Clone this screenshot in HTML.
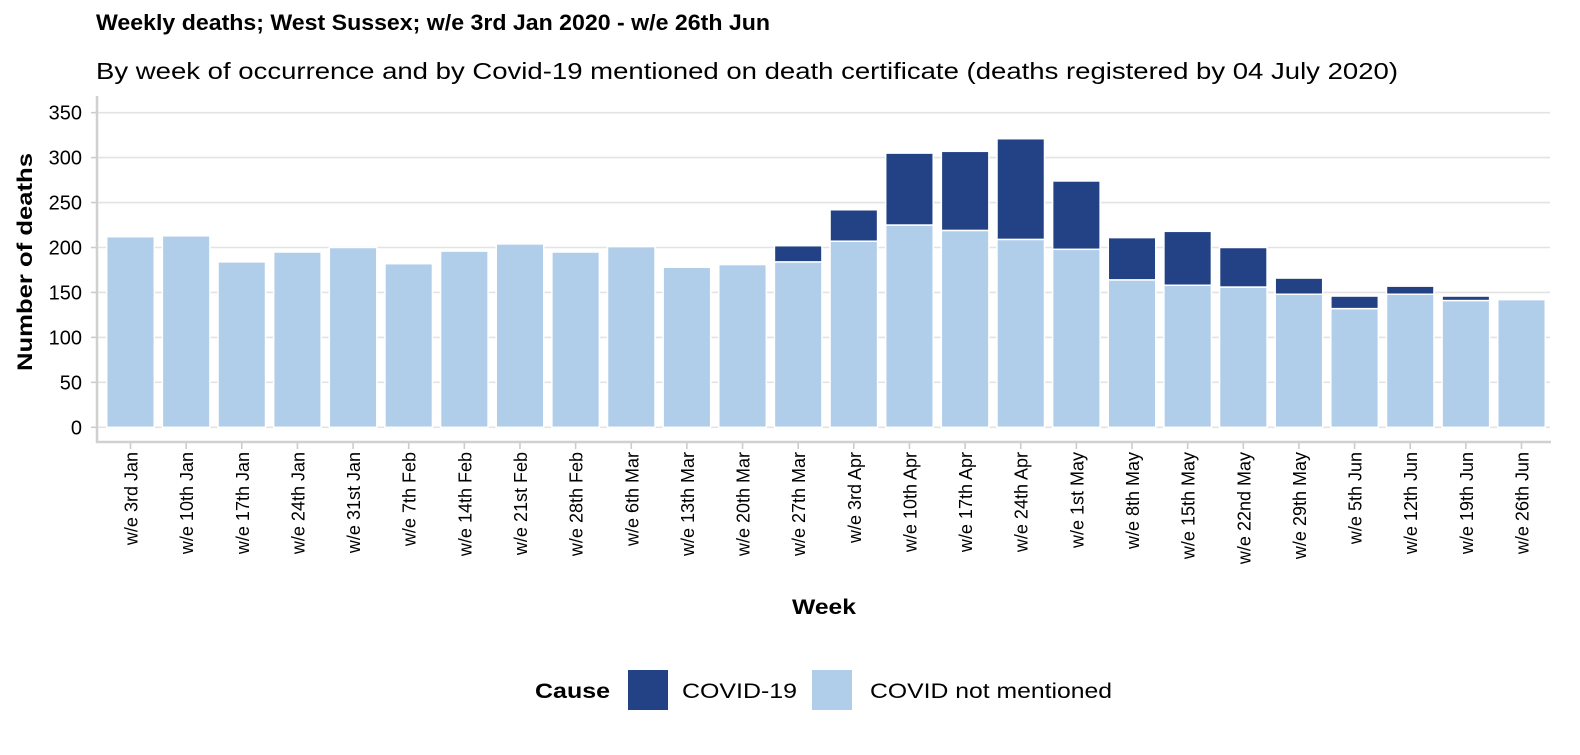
<!DOCTYPE html>
<html><head><meta charset="utf-8"><style>
body{margin:0;background:#fff;font-family:"Liberation Sans",Arial,sans-serif}
svg text{font-family:"Liberation Sans",Arial,sans-serif}
</style></head><body>
<svg id="chart" width="1580" height="750" xmlns="http://www.w3.org/2000/svg">
<text x="96" y="30" font-size="22" font-weight="bold" textLength="674" lengthAdjust="spacingAndGlyphs">Weekly deaths; West Sussex; w/e 3rd Jan 2020 - w/e 26th Jun</text>
<text x="96" y="79" font-size="23" textLength="1302" lengthAdjust="spacingAndGlyphs">By week of occurrence and by Covid-19 mentioned on death certificate (deaths registered by 04 July 2020)</text>
<g id="grid"></g><g id="bars"></g><g id="axes"></g>
<text transform="translate(32,262) rotate(-90)" text-anchor="middle" font-size="21" font-weight="bold" textLength="218" lengthAdjust="spacingAndGlyphs">Number of deaths</text>
<text x="824" y="614" text-anchor="middle" font-size="21" font-weight="bold" textLength="64" lengthAdjust="spacingAndGlyphs">Week</text>
<g>
<text x="535" y="698" font-size="21" font-weight="bold" textLength="75" lengthAdjust="spacingAndGlyphs">Cause</text>
<rect x="628" y="670" width="40" height="40" fill="#234185"/>
<text x="682" y="698" font-size="21" textLength="115" lengthAdjust="spacingAndGlyphs">COVID-19</text>
<rect x="812" y="670" width="40" height="40" fill="#b0cde9"/>
<text x="870" y="698" font-size="21" textLength="242" lengthAdjust="spacingAndGlyphs">COVID not mentioned</text>
</g>
</svg>
<script>
const weeks=["w/e 3rd Jan","w/e 10th Jan","w/e 17th Jan","w/e 24th Jan","w/e 31st Jan","w/e 7th Feb","w/e 14th Feb","w/e 21st Feb","w/e 28th Feb","w/e 6th Mar","w/e 13th Mar","w/e 20th Mar","w/e 27th Mar","w/e 3rd Apr","w/e 10th Apr","w/e 17th Apr","w/e 24th Apr","w/e 1st May","w/e 8th May","w/e 15th May","w/e 22nd May","w/e 29th May","w/e 5th Jun","w/e 12th Jun","w/e 19th Jun","w/e 26th Jun"];
const notMentioned=[212,213,184,195,200,182,196,204,195,201,178,181,184,207,225,219,209,198,164,158,156,148,132,148,141,142];
const covid=[0,0,0,0,0,0,0,0,0,0,0,0,18,35,80,88,112,76,47,60,44,18,14,9,5,0];
const yTicks=[0,50,100,150,200,250,300,350];
const NS="http://www.w3.org/2000/svg";
const x0=130.5,step=55.64,bw=47.5,yZero=427.3,ppu=0.899;
const X=i=>x0+i*step, Y=v=>yZero-v*ppu;
function mk(tag,attrs,parent,txt){const e=document.createElementNS(NS,tag);for(const k in attrs)e.setAttribute(k,attrs[k]);if(txt!==undefined)e.textContent=txt;parent.appendChild(e);return e;}
const grid=document.getElementById('grid'),bars=document.getElementById('bars'),axes=document.getElementById('axes');
yTicks.forEach(v=>{
 const l=mk('line',{x1:97,x2:1550,y1:Y(v),y2:Y(v),stroke:'#e3e3e3','stroke-width':1.6},grid);
 
 
 const t=mk('text',{x:82,y:Y(v)+7,'text-anchor':'end','font-size':20},axes,String(v));
 
 
 mk('line',{x1:91,x2:97,y1:Y(v),y2:Y(v),stroke:'#ccc','stroke-width':1.6},axes);
});
weeks.forEach((w,i)=>{
 const cx=X(i);
 const r1=mk('rect',{x:cx-bw/2,y:Y(notMentioned[i]),width:bw,height:notMentioned[i]*ppu,fill:'#b0cde9',stroke:'#fff','stroke-width':1.5},bars);
 
 
 if(covid[i]>0){
  const r2=mk('rect',{x:cx-bw/2,y:Y(notMentioned[i]+covid[i]),width:bw,height:covid[i]*ppu,fill:'#234185',stroke:'#fff','stroke-width':1.5},bars);
  
  
 }
 mk('line',{x1:cx,x2:cx,y1:442,y2:449,stroke:'#ccc','stroke-width':1.6},axes);
 const t=mk('text',{transform:`translate(${cx+7},452) rotate(-90)`,'text-anchor':'end','font-size':18},axes,w);
 
 
});
const ax=mk('line',{x1:97,x2:97,y1:96,y2:443,stroke:'#d0d0d0','stroke-width':2.5},axes);


const bx=mk('line',{x1:96,x2:1551,y1:442,y2:442,stroke:'#d0d0d0','stroke-width':2.5},axes);


</script>
</body></html>
